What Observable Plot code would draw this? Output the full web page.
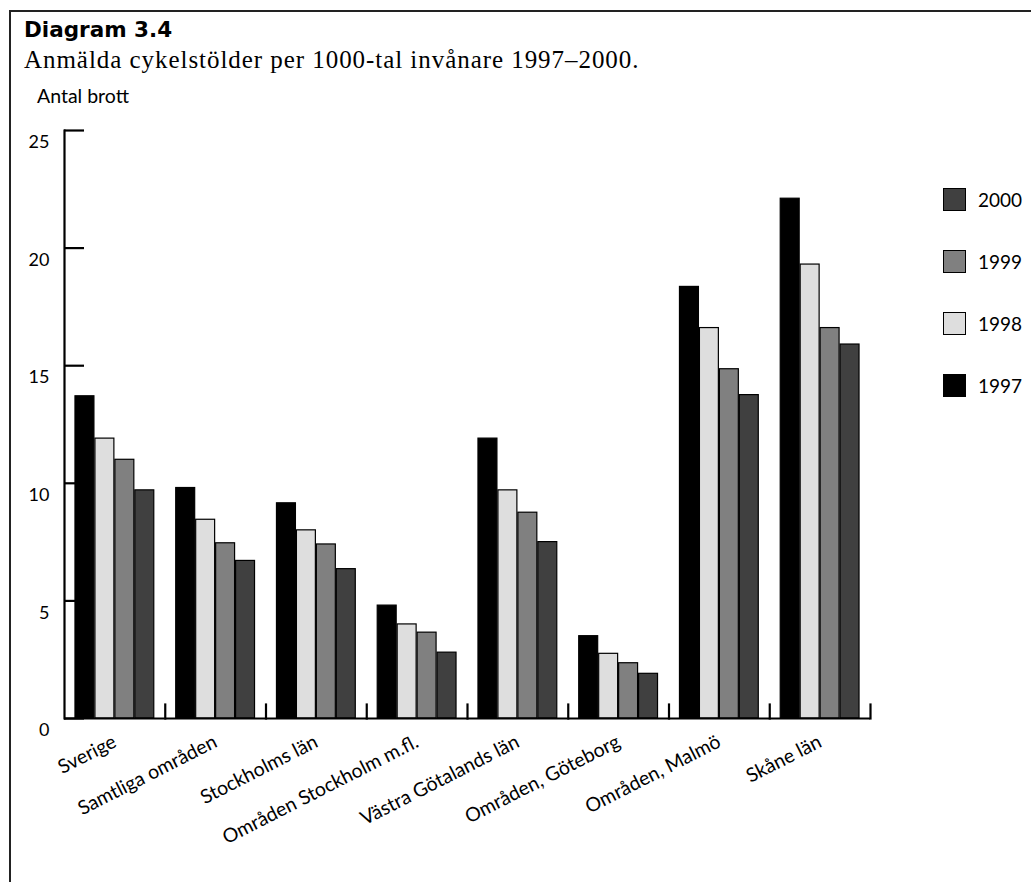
<!DOCTYPE html>
<html>
<head>
<meta charset="utf-8">
<script src="https://cdn.jsdelivr.net/npm/d3@7"></script>
<script src="https://cdn.jsdelivr.net/npm/@observablehq/plot@0.6"></script>
<style>
  html, body { margin: 0; padding: 0; background: #fff; }
  #root { position: relative; width: 1031px; height: 882px; overflow: hidden; background: #fff; }
  .abs { position: absolute; white-space: nowrap; }
  #title { left: 24px; top: 17px; font: bold 21.5px "DejaVu Sans", sans-serif; color: #000; line-height: 26px; }
  #subtitle { left: 24px; top: 45px; font: 25px "Liberation Serif", serif; letter-spacing: 0.95px; color: #000; line-height: 30px; }
  #ylabel { left: 37px; top: 84px; font: 19.5px Lato, sans-serif; color: #000; line-height: 24px; }
  #chart { left: 0; top: 110px; }
  .lg-sw { position: absolute; width: 21px; height: 21px; border: 1.2px solid #000; }
  .lg-tx { position: absolute; font: 19px Lato, sans-serif; color: #000; line-height: 24px; }
</style>
</head>
<body>
<div id="root">
  <div class="abs" style="left:9px;top:10px;right:0;height:2px;background:#222"></div>
  <div class="abs" style="left:9px;top:10px;bottom:0;width:2px;background:#222"></div>
  <div id="title" class="abs">Diagram 3.4</div>
  <div id="subtitle" class="abs">Anmälda cykelstölder per 1000-tal invånare 1997–2000.</div>
  <div id="ylabel" class="abs">Antal brott</div>
  <div id="chart" class="abs"></div>
  <div id="legend"></div>
</div>
<script>
const regions = ["Sverige", "Samtliga områden", "Stockholms län", "Områden Stockholm m.fl.",
  "Västra Götalands län", "Områden, Göteborg", "Områden, Malmö", "Skåne län"];
const years = ["1997", "1998", "1999", "2000"];
const v1997 = [13.7, 9.8, 9.15, 4.8, 11.9, 3.5, 18.35, 22.1];
const v1998 = [11.9, 8.45, 8.0, 4.0, 9.7, 2.75, 16.6, 19.3];
const v1999 = [11.0, 7.45, 7.4, 3.65, 8.75, 2.35, 14.85, 16.6];
const v2000 = [9.7, 6.7, 6.35, 2.8, 7.5, 1.9, 13.75, 15.9];
const yTicks = [0, 5, 10, 15, 20, 25];
const colors = ["#000000", "#dedede", "#808080", "#404040"];

const series = [v1997, v1998, v1999, v2000];
const data = [];
regions.forEach((r, i) => years.forEach((y, j) => data.push({region: r, year: y, value: series[j][i]})));

const plot = Plot.plot({
  width: 1031,
  height: 748,
  marginTop: 20,
  marginBottom: 140,
  marginLeft: 64,
  marginRight: 161,
  style: {fontFamily: "Lato, sans-serif", color: "#000", background: "transparent"},
  fx: {domain: regions, padding: 0, round: false, label: null},
  x: {domain: years, paddingInner: 0.05, paddingOuter: 0.55, round: false, axis: null},
  y: {domain: [0, 25], axis: null},
  color: {domain: years, range: colors},
  marks: [
    Plot.barY(data, {fx: "region", x: "year", y: "value", fill: "year", stroke: "#000", strokeWidth: 1.2}),
    Plot.ruleY([0], {stroke: "#000", strokeWidth: 2.2}),
    Plot.frame({anchor: "right", insetTop: 574, stroke: "#000", strokeWidth: 2.2}),
    Plot.frame({anchor: "left", facetAnchor: "left", stroke: "#000", strokeWidth: 2.2}),
    Plot.axisY({ticks: yTicks, tickSize: -20, tickFormat: () => "", label: null, strokeWidth: 2.2, stroke: "#000"}),
    Plot.axisY({ticks: yTicks, tickSize: 0, tickPadding: 15, label: null, dy: 12, fontSize: 18}),
    Plot.axisFx({anchor: "bottom", tickSize: 0, tickRotate: -27, tickPadding: 22, label: null, fontSize: 19.5})
  ]
});
document.getElementById("chart").appendChild(plot);

// legend (2000 on top, 1997 at bottom)
const legend = document.getElementById("legend");
const lgYears = years.slice().reverse();
lgYears.forEach((y, k) => {
  const sw = document.createElement("div");
  sw.className = "lg-sw";
  sw.style.left = "943px";
  sw.style.top = (188 + k * 62) + "px";
  sw.style.background = colors[years.indexOf(y)];
  legend.appendChild(sw);
  const tx = document.createElement("div");
  tx.className = "lg-tx";
  tx.style.left = "978px";
  tx.style.top = (188 + k * 62) + "px";
  tx.textContent = y;
  legend.appendChild(tx);
});
</script>
</body>
</html>
